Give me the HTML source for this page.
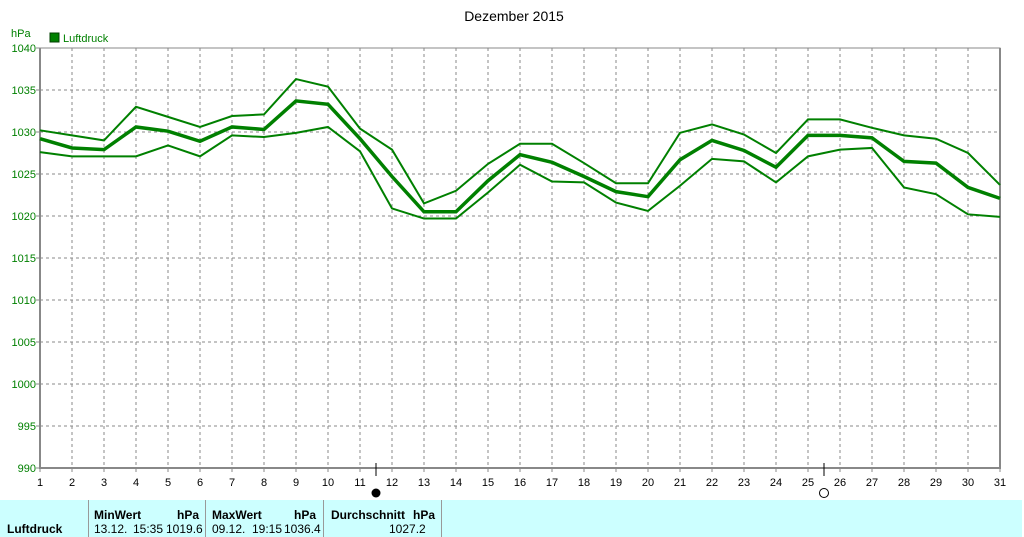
<!DOCTYPE html>
<html><head><meta charset="utf-8"><style>
body{margin:0;width:1024px;height:537px;background:#fff;overflow:hidden;font-family:"Liberation Sans",sans-serif;}
svg{position:absolute;left:0;top:0}
.tb{position:absolute;left:0;top:500px;width:1022px;height:37px;background:#ccffff;font-size:12px}
.tb div{position:absolute;white-space:pre}
.sep{position:absolute;top:0;width:1px;height:37px;background:#999}
</style></head><body>
<svg width="1024" height="537">
<g id="grid"></g>
<g id="axes"></g>
<g id="series"></g>
<text x="514" y="21" font-size="14" text-anchor="middle">Dezember 2015</text>
<text x="11" y="37" font-size="11" fill="#008000">hPa</text>
<rect x="50" y="33" width="9" height="9" fill="#008000" stroke="#004000"/>
<text x="63" y="42" font-size="11" fill="#008000">Luftdruck</text>
<line x1="376" y1="463" x2="376" y2="476" stroke="#000"/>
<circle cx="376" cy="493" r="4.5" fill="#000"/>
<line x1="824" y1="463" x2="824" y2="476" stroke="#000"/>
<circle cx="824" cy="493" r="4.5" fill="none" stroke="#000"/>
</svg>
<div class="tb">
<div class="sep" style="left:88px"></div><div class="sep" style="left:205px"></div><div class="sep" style="left:323px"></div><div class="sep" style="left:441px"></div>
<div style="left:7px;top:22px;font-weight:bold">Luftdruck</div>
<div style="left:94px;top:8px;font-weight:bold">MinWert</div>
<div style="left:177px;top:8px;font-weight:bold">hPa</div>
<div style="left:94px;top:22px">13.12.</div>
<div style="left:133px;top:22px">15:35</div>
<div style="left:166px;top:22px">1019.6</div>
<div style="left:212px;top:8px;font-weight:bold">MaxWert</div>
<div style="left:294px;top:8px;font-weight:bold">hPa</div>
<div style="left:212px;top:22px">09.12.</div>
<div style="left:252px;top:22px">19:15</div>
<div style="left:284px;top:22px">1036.4</div>
<div style="left:331px;top:8px;font-weight:bold">Durchschnitt</div>
<div style="left:413px;top:8px;font-weight:bold">hPa</div>
<div style="left:389px;top:22px">1027.2</div>
</div>
<script>
const days=[1,2,3,4,5,6,7,8,9,10,11,12,13,14,15,16,17,18,19,20,21,22,23,24,25,26,27,28,29,30,31];
const maxVals=[1030.2,1029.6,1029.0,1033.0,1031.8,1030.6,1031.9,1032.1,1036.3,1035.4,1030.4,1027.9,1021.5,1023.0,1026.2,1028.6,1028.6,1026.3,1023.9,1023.9,1029.9,1030.9,1029.7,1027.5,1031.5,1031.5,1030.5,1029.6,1029.2,1027.5,1023.7];
const meanVals=[1029.2,1028.1,1027.9,1030.6,1030.1,1028.9,1030.6,1030.3,1033.7,1033.3,1029.2,1024.7,1020.5,1020.5,1024.2,1027.3,1026.4,1024.7,1022.9,1022.3,1026.7,1029.0,1027.8,1025.8,1029.6,1029.6,1029.3,1026.5,1026.3,1023.4,1022.1];
const minVals=[1027.6,1027.1,1027.1,1027.1,1028.4,1027.1,1029.6,1029.4,1029.9,1030.6,1027.7,1020.9,1019.7,1019.7,1022.8,1026.1,1024.1,1024.0,1021.6,1020.6,1023.6,1026.8,1026.5,1024.0,1027.1,1027.9,1028.1,1023.4,1022.6,1020.2,1019.9];
const yTicks=[990,995,1000,1005,1010,1015,1020,1025,1030,1035,1040];
const NS="http://www.w3.org/2000/svg";
const X=d=>40+(d-1)*32, Y=v=>48+(1040-v)*8.4;
function mk(t,a,p){const e=document.createElementNS(NS,t);for(const k in a)e.setAttribute(k,a[k]);p.appendChild(e);return e;}
const grid=document.getElementById('grid'),axes=document.getElementById('axes'),ser=document.getElementById('series');
yTicks.forEach(v=>{
 if(v>990&&v<1040){const l=mk('line',{x1:40,x2:1000,y1:Y(v),y2:Y(v),stroke:'#888','stroke-dasharray':'3,3'},grid);
 
 }
 const t=mk('text',{x:36,y:Y(v)+4,'font-size':11,fill:'#008000','text-anchor':'end'},axes);t.textContent=v;
 
 
 mk('line',{x1:36,x2:40,y1:Y(v),y2:Y(v),stroke:'#888'},axes);
});
days.forEach(d=>{
 if(d>1&&d<31){const l=mk('line',{x1:X(d),x2:X(d),y1:48,y2:468,stroke:'#888','stroke-dasharray':'3,3'},grid);
 
 }
 mk('line',{x1:X(d),x2:X(d),y1:468,y2:472,stroke:'#888'},axes);
 const t=mk('text',{x:X(d),y:486,'font-size':11,'text-anchor':'middle'},axes);t.textContent=d;
 
 
});
mk('rect',{x:40,y:48,width:960,height:420,fill:'none',stroke:'#888','stroke-width':1},axes);
mk('line',{x1:40,x2:40,y1:48,y2:469,stroke:'#888','stroke-width':2},axes);
mk('line',{x1:39,x2:1001,y1:468,y2:468,stroke:'#888','stroke-width':2},axes);
mk('line',{x1:1000,x2:1000,y1:48,y2:469,stroke:'#888','stroke-width':2},axes);
[[maxVals,2,'max-line'],[minVals,2,'min-line'],[meanVals,3.5,'mean-line']].forEach(([vals,w,n])=>{
 const p=mk('polyline',{points:vals.map((v,i)=>X(days[i])+','+Y(v)).join(' '),fill:'none',stroke:'#008000','stroke-width':w},ser);
 
 
});
</script>
</body></html>
